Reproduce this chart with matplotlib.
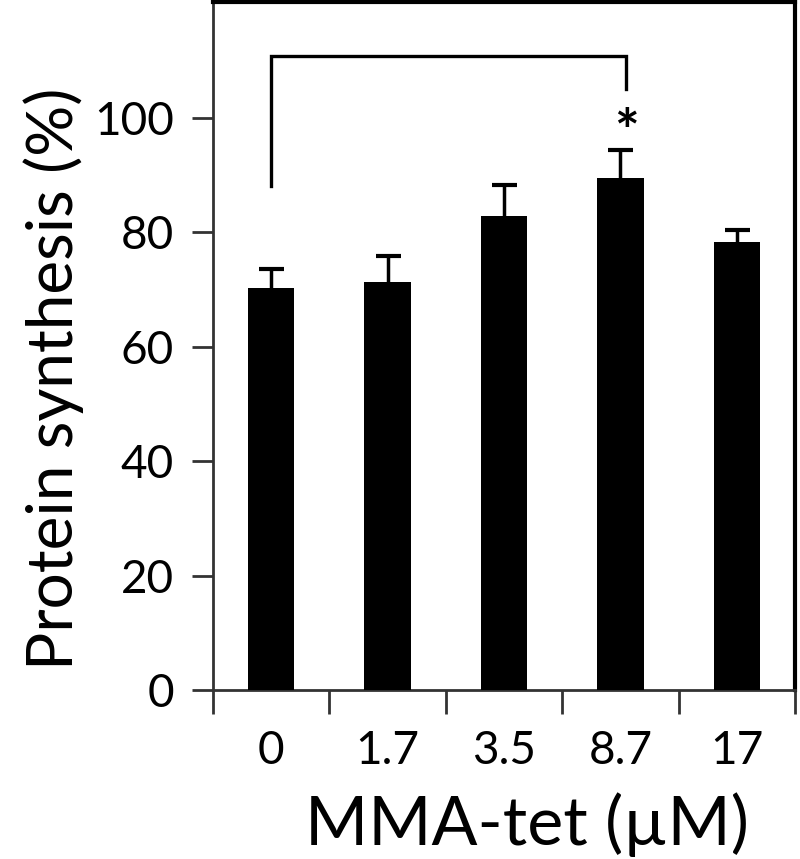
import matplotlib
matplotlib.use("Agg")
import matplotlib.pyplot as plt
import numpy as np

categories = ["0", "1.7", "3.5", "8.7", "17"]
means = [70.3, 71.3, 82.8, 89.4, 78.3]
errors = [3.2, 4.5, 5.4, 5.0, 2.0]
yticks = [0, 20, 40, 60, 80, 100]

plt.rcParams['font.family'] = ['Lato', 'DejaVu Sans']

fig = plt.figure(figsize=(8, 8.59), dpi=100)
ax = fig.add_axes([0.266, 0.1967, 0.728, 0.801])

x = np.arange(len(categories))
ax.errorbar(x, means, yerr=errors, fmt='none',
            ecolor='black', elinewidth=2.5, capsize=9, capthick=3, zorder=1)
ax.bar(x, means, width=0.40, color='black', zorder=3)

ax.set_xlim(-0.5, len(categories) - 0.5)
ax.set_ylim(0, 120.2)

ax.set_yticks(yticks)
ax.set_yticklabels([str(v) for v in yticks], fontsize=33)
ax.tick_params(axis='y', direction='out', length=15, width=2, color='#333333', pad=13)

ax.set_xticks(np.arange(len(categories) + 1) - 0.5)
ax.set_xticklabels([''] * (len(categories) + 1))
ax.tick_params(axis='x', which='major', direction='out', length=17, width=2, color='#333333')
ax.set_xticks(x, minor=True)
ax.set_xticklabels(categories, minor=True, fontsize=33)
ax.tick_params(axis='x', which='minor', length=0, pad=29)

for s in ['left', 'bottom']:
    ax.spines[s].set_color('#333333')
    ax.spines[s].set_linewidth(2)
for s in ['top', 'right']:
    ax.spines[s].set_color('black')
    ax.spines[s].set_linewidth(3)

ax.set_xlabel('MMA-tet (\u00b5M)', fontsize=49)
ax.set_ylabel('Protein synthesis (%)', fontsize=46)
ax.xaxis.set_label_coords(0.54, -0.148)
ax.yaxis.set_label_coords(-0.222, 0.453)

# significance bracket
bx0, bx1 = 0, 3.05
ax.plot([bx0, bx0, bx1, bx1], [88.0, 110.7, 110.7, 105.0], color='black',
        linewidth=2.4, solid_joinstyle='miter', zorder=4)
ax.text(bx1, 97.0, '*', ha='center', va='center', fontsize=42, fontweight='bold')

fig.savefig('out.png', dpi=100)
